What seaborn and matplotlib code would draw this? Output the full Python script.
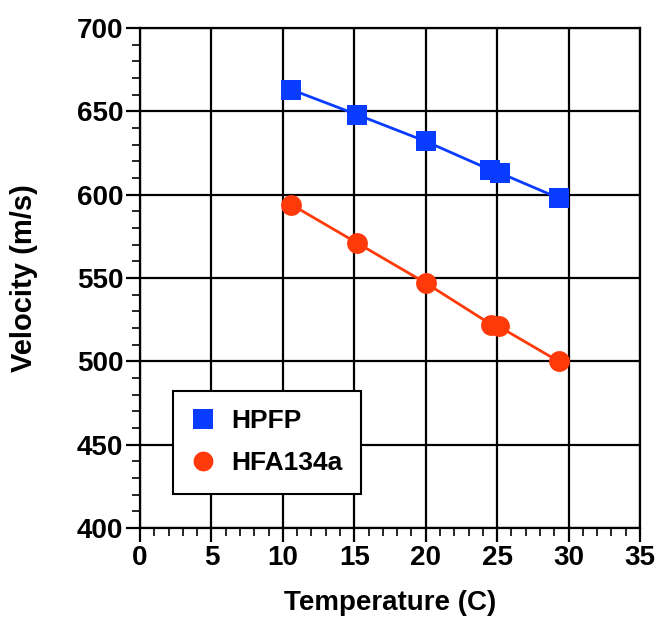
import numpy as np
import pandas as pd
import seaborn as sns
from matplotlib import pyplot as plt
from matplotlib.ticker import MultipleLocator

# values
hpfp_temp = [10.6, 15.2, 20.0, 24.5, 25.2, 29.3]
hpfp_vel = [663, 648, 632, 615, 613, 598]
hfa_temp = [10.6, 15.2, 20.0, 24.6, 25.1, 29.3]
hfa_vel = [594, 571, 547, 522, 521, 500]

colors = {"HPFP": "#0a3cff", "HFA134a": "#ff3a0a"}
markers = {"HPFP": "s", "HFA134a": "o"}

df = pd.concat([
    pd.DataFrame({"Temperature": hpfp_temp, "Velocity": hpfp_vel, "Fluid": "HPFP"}),
    pd.DataFrame({"Temperature": hfa_temp, "Velocity": hfa_vel, "Fluid": "HFA134a"}),
])

sns.set_style("white")
plt.rcParams['font.family'] = ['Liberation Sans', 'DejaVu Sans']
plt.rcParams['font.weight'] = 'bold'
plt.rcParams['text.color'] = 'black'
plt.rcParams['xtick.color'] = 'black'
plt.rcParams['ytick.color'] = 'black'
plt.rcParams['axes.labelcolor'] = 'black'

fig = plt.figure(figsize=(6.57, 6.17), dpi=100)
ax = fig.add_axes([0.2131, 0.1443, 0.761, 0.8103])

sns.lineplot(data=df, x="Temperature", y="Velocity", hue="Fluid", style="Fluid",
             markers=markers, dashes=False, palette=colors, sort=False,
             linewidth=2, markersize=15, markeredgewidth=0, ax=ax, zorder=3)

ax.set_xlim(0, 35)
ax.set_ylim(400, 700)
ax.xaxis.set_major_locator(MultipleLocator(5))
ax.xaxis.set_minor_locator(MultipleLocator(1))
ax.yaxis.set_major_locator(MultipleLocator(50))
ax.yaxis.set_minor_locator(MultipleLocator(10))
ax.grid(True, which='major', color='black', linewidth=1.6)
ax.set_axisbelow(True)
for s in ax.spines.values():
    s.set_color('black')
    s.set_linewidth(1.6)
ax.tick_params(which='major', direction='out', length=10, width=1.6,
               labelsize=20, color='black', bottom=True, left=True, pad=2)
ax.tick_params(which='minor', direction='out', length=6, width=1.2,
               color='black', bottom=True, left=True)
for lab in ax.get_xticklabels() + ax.get_yticklabels():
    lab.set_fontweight('bold')

ax.set_xlabel("Temperature (C)", fontsize=20, fontweight='bold', labelpad=14)
ax.set_ylabel("Velocity (m/s)", fontsize=21, fontweight='bold', labelpad=28)

handles, labels = ax.get_legend_handles_labels()
leg = ax.legend(handles, labels, loc='lower left', bbox_to_anchor=(0.066, 0.068),
                borderaxespad=0, fancybox=False, framealpha=1, edgecolor='black',
                prop={'size': 19, 'weight': 'bold'}, handlelength=0.9,
                handletextpad=0.6, labelspacing=0.7, borderpad=0.7,
                markerscale=0.95)
for h in leg.legend_handles:
    h.set_linestyle('None')
leg.get_frame().set_linewidth(1.5)
leg.set_zorder(5)

plt.savefig('out.png', dpi=100)
